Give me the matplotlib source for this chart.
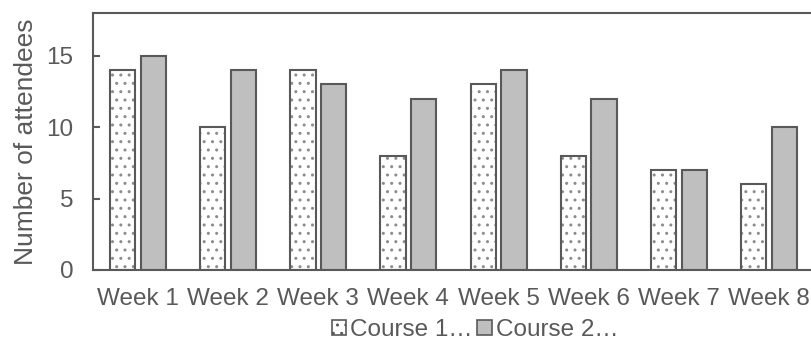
import numpy as np
import matplotlib
matplotlib.use("Agg")
import matplotlib.pyplot as plt
from matplotlib.patches import Patch

# data
weeks = ["Week 1", "Week 2", "Week 3", "Week 4", "Week 5", "Week 6", "Week 7", "Week 8"]
course1 = [14, 10, 14, 8, 13, 8, 7, 6]
course2 = [15, 14, 13, 12, 14, 12, 7, 10]
series_names = ["Course 1\u2026", "Course 2\u2026"]
y_ticks = [0, 5, 10, 15]

grey = "#595959"
dots = "#8c8c8c"
plt.rcParams["font.family"] = ["Liberation Sans", "DejaVu Sans"]
plt.rcParams["hatch.linewidth"] = 1.0

fig = plt.figure(figsize=(8.12, 3.42), dpi=100)
ax = fig.add_axes([93 / 812, 1 - 270 / 342, 721 / 812, 257 / 342])

x = np.arange(len(weeks))
w = 0.28
off = 0.17
# dotted fill first (lighter dots), then the dark outline on top
ax.bar(x - off, course1, w, color="white", edgecolor=dots, linewidth=0,
       hatch="..")
ax.bar(x - off, course1, w, fill=False, edgecolor=grey, linewidth=1.5)
ax.bar(x + off, course2, w, color="#bfbfbf", edgecolor=grey, linewidth=1.5)

ax.set_xlim(-0.5, len(weeks) - 0.5)
ax.set_ylim(0, 18)
ax.set_xticks(x)
ax.set_xticklabels(weeks)
ax.set_yticks(y_ticks)
ax.tick_params(axis="x", length=0, labelsize=17.5, colors=grey, pad=13)
ax.tick_params(axis="y", direction="in", length=5, width=1.5, labelsize=17.5,
               colors=grey, pad=14)
for s in ax.spines.values():
    s.set_color(grey)
    s.set_linewidth(1.5)

ax.set_ylabel("Number of attendees", fontsize=19, color=grey, labelpad=6)

handles = [Patch(facecolor="white", edgecolor=grey, linewidth=1.2, hatch=".."),
           Patch(facecolor="#bfbfbf", edgecolor=grey, linewidth=1.2)]
fig.legend(handles, series_names, loc="center",
           bbox_to_anchor=(475 / 812, 1 - 330 / 342),
           ncol=2, frameon=False, fontsize=17.5, handlelength=0.6,
           handleheight=0.6, handletextpad=0.15, columnspacing=0.2,
           labelcolor=grey, borderpad=0.1)

fig.savefig("out.png", dpi=100)
